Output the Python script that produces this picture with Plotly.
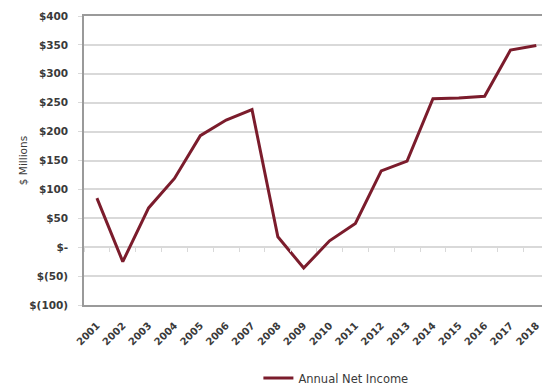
import plotly.graph_objects as go

# Annual net income, $ millions
years = ["2001", "2002", "2003", "2004", "2005", "2006", "2007", "2008", "2009",
         "2010", "2011", "2012", "2013", "2014", "2015", "2016", "2017", "2018"]
net_income = [85, -25, 68, 119, 193, 220, 238, 18, -36,
              11, 41, 132, 149, 257, 258, 261, 341, 349]

y_ticks = [400, 350, 300, 250, 200, 150, 100, 50, 0, -50, -100]
y_tick_text = ["$400", "$350", "$300", "$250", "$200", "$150", "$100", "$50",
               "$-", "$(50)", "$(100)"]

LINE = "#7b1c2c"
GRID = "#d9d9d9"
BORDER = "#9a9a9a"
TEXT = "#3a3a3a"
FONT = "DejaVu Sans, Arial, sans-serif"

fig = go.Figure()
fig.add_trace(go.Scatter(
    x=list(range(len(years))), y=net_income, mode="lines",
    name="Annual Net Income",
    line=dict(color=LINE, width=3),
))

x_range = [-0.5, 17.22]

fig.update_layout(
    width=542, height=385,
    margin=dict(l=84, r=0, t=16, b=80, autoexpand=False),
    paper_bgcolor="white", plot_bgcolor="white",
    font=dict(family=FONT, size=10, color=TEXT),
    showlegend=True,
    legend=dict(orientation="h", x=0.55, xanchor="center", y=-0.253,
                yanchor="middle", font=dict(size=11.5, color=TEXT),
                itemwidth=30),
    xaxis=dict(
        range=x_range, tickmode="array",
        tickvals=list(range(len(years))), ticktext=years,
        tickangle=-45, showgrid=False, zeroline=False, automargin=False,
        ticklabeloverflow="allow",
        showline=True, linecolor=BORDER, linewidth=1.5, mirror=True,
        ticks="outside", ticklen=9, tickcolor="rgba(0,0,0,0)",
        tickfont=dict(size=10, color=TEXT, weight="bold"),
    ),
    # category boundary ticks along the zero line
    xaxis2=dict(
        range=x_range, overlaying="x", anchor="free", position=0.2,
        side="bottom", tickmode="linear", tick0=0.5, dtick=1,
        ticks="outside", ticklen=4, tickcolor=GRID, tickwidth=1,
        showticklabels=False, showgrid=False, zeroline=False, showline=False,
        automargin=False,
    ),
    yaxis=dict(
        range=[-100, 400], tickmode="array", tickvals=y_ticks,
        ticktext=y_tick_text, showgrid=True, gridcolor=GRID, gridwidth=1.5,
        zeroline=False, showline=True, linecolor=BORDER, linewidth=1.5,
        ticks="outside", ticklen=4, tickcolor=GRID, automargin=False,
        ticklabelstandoff=8,
        tickfont=dict(size=10.5, color=TEXT, weight="bold"),
        title=dict(text="$ Millions", font=dict(size=10.5, color=TEXT),
                   standoff=0),
    ),
)

# invisible trace to bring in the boundary-tick axis
fig.add_trace(go.Scatter(x=[0], y=[None], xaxis="x2", showlegend=False,
                         hoverinfo="skip"))

fig.write_html("out.html")
